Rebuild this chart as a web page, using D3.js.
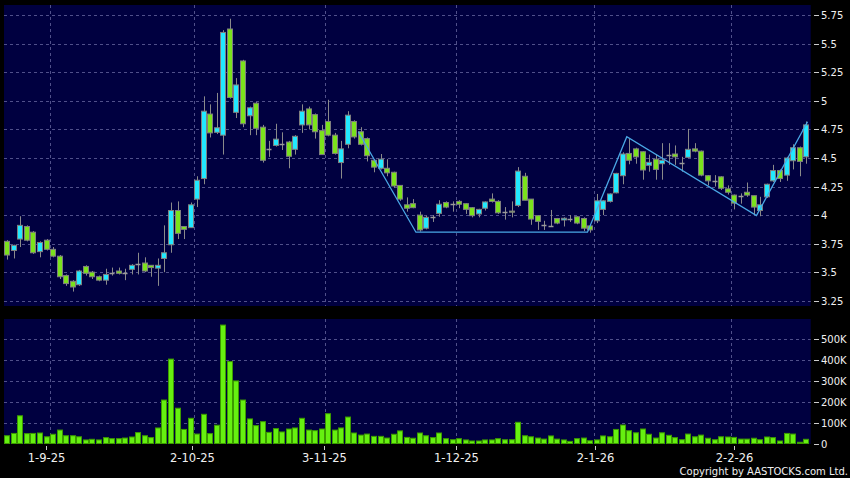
<!DOCTYPE html>
<html><head><meta charset="utf-8">
<script src="https://cdn.jsdelivr.net/npm/d3@7"></script>
<style>html,body{margin:0;padding:0;background:#000;}svg{display:block}</style>
</head><body>
<svg id="c" width="850" height="478"></svg>
<script>
const opens = [3.77,3.69,3.79,3.90,3.85,3.68,3.78,3.70,3.64,3.47,3.42,3.39,3.55,3.50,3.46,3.43,3.49,3.51,3.49,3.525,3.57,3.58,3.56,3.535,3.62,3.74,4.04,3.90,3.89,4.14,4.32,4.885,4.725,4.70,5.63,4.90,5.35,4.87,4.98,4.77,4.58,4.61,4.62,4.64,4.576,4.79,4.93,4.88,4.74,4.82,4.70,4.46,4.62,4.82,4.73,4.67,4.48,4.41,4.41,4.375,4.26,4.09,4.10,4.00,3.885,3.985,4.015,4.11,4.10,4.12,4.10,4.065,4.01,4.06,4.14,4.12,4.03,4.035,4.085,4.34,4.14,3.995,3.915,3.905,3.97,3.957,3.97,3.985,3.97,3.905,3.95,4.05,4.12,4.195,4.345,4.54,4.58,4.555,4.436,4.49,4.45,4.525,4.535,4.46,4.506,4.58,4.56,4.345,4.30,4.335,4.23,4.175,4.17,4.20,4.17,4.04,4.16,4.30,4.39,4.35,4.476,4.59,4.51];
const highs = [3.78,3.74,3.99,3.91,3.86,3.77,3.79,3.72,3.65,3.48,3.43,3.52,3.56,3.51,3.47,3.53,3.54,3.54,3.53,3.57,3.67,3.63,3.56,3.62,3.91,4.11,4.12,3.90,4.11,4.34,5.04,4.97,5.07,5.62,5.72,5.20,5.36,4.95,4.99,4.79,4.65,4.80,4.725,4.65,4.70,4.97,4.95,4.89,4.79,5.01,4.72,4.65,4.91,4.83,4.77,4.68,4.49,4.535,4.49,4.38,4.26,4.155,4.14,4.03,3.995,4.0,4.13,4.12,4.12,4.13,4.105,4.07,4.055,4.12,4.19,4.13,4.07,4.12,4.42,4.37,4.14,4.0,3.95,4.045,3.975,3.98,4.0,3.99,3.98,3.91,4.185,4.13,4.19,4.37,4.55,4.67,4.59,4.56,4.53,4.53,4.63,4.63,4.61,4.51,4.755,4.63,4.565,4.35,4.35,4.34,4.26,4.18,4.19,4.285,4.17,4.16,4.275,4.44,4.40,4.51,4.62,4.60,4.82];
const lows = [3.61,3.62,3.72,3.77,3.66,3.63,3.69,3.63,3.44,3.38,3.33,3.38,3.47,3.44,3.42,3.39,3.47,3.48,3.43,3.48,3.48,3.50,3.46,3.38,3.50,3.67,3.79,3.79,3.89,4.07,4.27,4.68,4.71,4.53,5.02,4.85,4.77,4.70,4.70,4.46,4.51,4.60,4.57,4.41,4.53,4.72,4.75,4.67,4.53,4.69,4.53,4.32,4.585,4.67,4.61,4.47,4.375,4.40,4.34,4.24,4.125,4.03,4.06,3.855,3.875,3.94,3.985,4.06,4.03,4.06,4.01,3.98,3.98,4.04,4.11,4.01,3.96,3.98,4.07,4.13,3.915,3.87,3.87,3.90,3.92,3.90,3.94,3.92,3.86,3.846,3.93,4.0,4.11,4.19,4.27,4.445,4.45,4.31,4.38,4.31,4.31,4.44,4.44,4.38,4.50,4.55,4.34,4.26,4.25,4.22,4.18,4.05,4.10,4.16,4.0,3.99,4.15,4.29,4.29,4.30,4.40,4.34,4.45];
const closes = [3.65,3.735,3.91,3.78,3.67,3.76,3.70,3.64,3.46,3.40,3.37,3.51,3.49,3.46,3.43,3.48,3.49,3.49,3.49,3.56,3.57,3.51,3.54,3.56,3.67,4.04,3.84,3.875,4.09,4.305,4.91,4.72,4.765,5.60,5.03,5.14,4.80,4.94,4.76,4.48,4.58,4.665,4.62,4.515,4.69,4.91,4.79,4.73,4.53,4.70,4.54,4.58,4.875,4.685,4.62,4.52,4.42,4.49,4.37,4.255,4.14,4.06,4.065,3.87,3.98,3.985,4.095,4.07,4.10,4.095,4.05,3.995,4.05,4.115,4.12,4.02,4.03,4.025,4.385,4.13,3.965,3.945,3.915,3.905,3.93,3.972,3.97,3.93,3.885,3.87,4.125,4.125,4.185,4.365,4.535,4.48,4.51,4.395,4.462,4.40,4.48,4.525,4.51,4.46,4.576,4.56,4.35,4.30,4.30,4.235,4.20,4.105,4.17,4.175,4.07,4.09,4.27,4.39,4.32,4.50,4.59,4.47,4.79];
const volumes = [37,48,132,47,48,50,32,44,64,37,37,32,17,20,17,28,23,23,26,31,52,37,28,74,207,402,168,67,120,45,139,47,87,564,390,298,207,117,85,104,53,71,55,69,74,120,64,61,69,142,64,74,126,50,40,45,34,34,26,44,60,29,25,50,37,28,50,23,18,23,17,12,12,17,17,23,18,18,101,37,32,26,21,36,21,17,10,23,26,13,17,36,32,67,88,61,51,69,44,26,51,39,28,18,45,32,40,25,18,32,31,29,21,21,25,18,31,28,12,48,45,6,20];
const priceTicks = [3.25,3.5,3.75,4,4.25,4.5,4.75,5,5.25,5.5,5.75];
const volTicks = [0,100,200,300,400,500];
const dateLabels = ["1-9-25","2-10-25","3-11-25","1-12-25","2-1-26","2-2-26"];
const dateIndex = [6,28,48,68,89,110];
const trendIdx = [53.6,62.4,88.6,94.6,114.4,122.2];
const trendPrice = [4.73,3.85,3.85,4.686,3.995,4.818];

const svg = d3.select("#c");
const L = 4, R = 810.7;
const P = {top:5, bottom:306};
const V = {top:319, bottom:444};
const n = opens.length;
const idx = d3.range(n);

const x = d3.scaleBand().domain(idx).range([4, 809.5]).paddingInner(0.15).paddingOuter(0.075);
const step = x.step();
const xc = i => x(i) + x.bandwidth()/2;
const xLin = d3.scaleLinear().domain([0, n-1]).range([xc(0), xc(n-1)]);
const xTick = d3.scalePoint().domain(idx).range([6.6, 813.6]);
const y = d3.scaleLinear().domain([3.25, 5.75]).range([300.7, 15.3]);
const yv = d3.scaleLinear().domain([0, 500]).range([443.5, 338.5]);

// backgrounds
svg.append("rect").attr("width",850).attr("height",478).attr("fill","#000");
svg.append("rect").attr("x",L).attr("y",P.top).attr("width",R-L).attr("height",P.bottom-P.top).attr("fill","#000040");
svg.append("rect").attr("x",L).attr("y",V.top).attr("width",R-L).attr("height",V.bottom-V.top).attr("fill","#000040");

const gridColor = "#50508a";
const grid = svg.append("g").attr("stroke",gridColor).attr("stroke-width",1).attr("stroke-dasharray","3,3").attr("fill","none");
priceTicks.forEach(t => {
  const yy = Math.round(y(t)) + 0.5;
  grid.append("line").attr("x1",L).attr("x2",R).attr("y1",yy).attr("y2",yy);
});
volTicks.filter(t => t > 0).forEach(t => {
  const yy = Math.round(yv(t)) + 0.5;
  grid.append("line").attr("x1",L).attr("x2",R).attr("y1",yy).attr("y2",yy);
});
dateIndex.forEach(i => {
  const xx = Math.round(x(i) + step) + 0.5;
  grid.append("line").attr("x1",xx).attr("x2",xx).attr("y1",P.top).attr("y2",P.bottom);
  grid.append("line").attr("x1",xx).attr("x2",xx).attr("y1",V.top).attr("y2",V.bottom);
});

// candles
const bw = Math.round(x.bandwidth());
const cg = svg.append("g");
idx.forEach(i => {
  const o = opens[i], c = closes[i], h = highs[i], l = lows[i];
  const cx = Math.round(xc(i)) + 0.5;
  cg.append("line").attr("x1",cx).attr("x2",cx).attr("y1",y(h)).attr("y2",y(l))
    .attr("stroke","#8a8a8a").attr("stroke-width",1);
  const x0 = Math.round(xc(i) - bw/2) + 0.5;
  if (Math.abs(o - c) < 1e-9) {
    const yy = Math.round(y(o)) + 0.5;
    cg.append("line").attr("x1",x0).attr("x2",x0 + bw - 1).attr("y1",yy).attr("y2",yy)
      .attr("stroke","#9a9a9a").attr("stroke-width",1.5);
  } else {
    const top = y(Math.max(o,c)), bot = y(Math.min(o,c));
    cg.append("rect").attr("x",x0).attr("y",top).attr("width",bw-1).attr("height",Math.max(1,bot-top))
      .attr("fill", c > o ? "#22e8ff" : "#7be21c").attr("stroke","#7f7f7f").attr("stroke-width",1);
  }
});

// trend line
const tl = d3.line().x(d => xLin(d[0])).y(d => y(d[1]));
svg.append("path").datum(trendIdx.map((t,k) => [t, trendPrice[k]]))
  .attr("d", tl).attr("fill","none").attr("stroke","#4aa8e6").attr("stroke-width",1.3);

// volume bars
const vg = svg.append("g");
idx.forEach(i => {
  const x0 = Math.round(xc(i) - bw/2) + 0.5;
  const top = yv(volumes[i]);
  vg.append("rect").attr("x",x0).attr("y",top).attr("width",bw-1).attr("height",Math.max(0.5, yv(0)-top))
    .attr("fill","#66f010").attr("stroke","#3c9a00").attr("stroke-width",1);
});

// right axes
const font = "DejaVu Sans, Verdana, sans-serif";
const ax = svg.append("g").attr("font-family",font).attr("fill","#f0f0f0");
priceTicks.forEach(t => {
  const yy = Math.round(y(t)) + 0.5;
  ax.append("line").attr("x1",814).attr("x2",819).attr("y1",yy).attr("y2",yy).attr("stroke","#cccccc");
  ax.append("text").attr("x",821).attr("y",yy).attr("dy","0.36em").attr("font-size",10).text(String(t));
});
volTicks.forEach(t => {
  const yy = Math.round(yv(t)) + 0.5;
  ax.append("line").attr("x1",814).attr("x2",819).attr("y1",yy).attr("y2",yy).attr("stroke","#cccccc");
  ax.append("text").attr("x",821).attr("y",yy).attr("dy","0.36em").attr("font-size",10).text(t === 0 ? "0" : t + "K");
});

// bottom date axis
dateIndex.forEach((i,k) => {
  const xx = Math.round(xTick(i)) + 0.5;
  ax.append("line").attr("x1",xx).attr("x2",xx).attr("y1",446).attr("y2",450).attr("stroke","#cccccc");
  ax.append("text").attr("x",xx).attr("y",461.5).attr("text-anchor","middle").attr("font-size",11.5).text(dateLabels[k]);
});

ax.append("text").attr("x",848).attr("y",474.5).attr("text-anchor","end").attr("font-size",10).text("Copyright by AASTOCKS.com Ltd.");
</script>
</body></html>
